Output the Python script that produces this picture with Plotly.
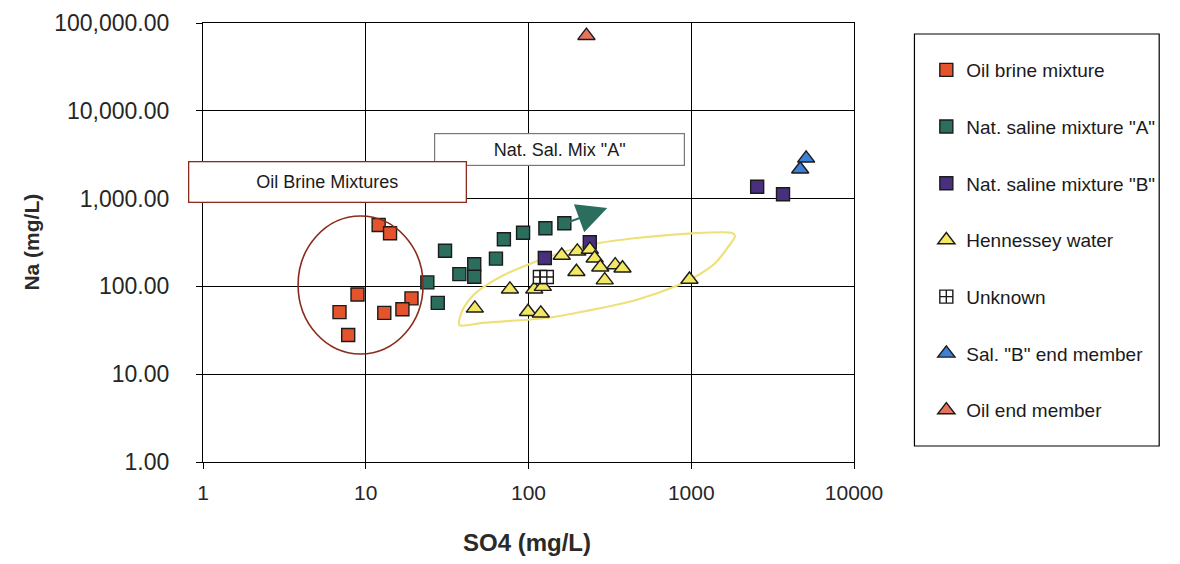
import numpy as np
import plotly.graph_objects as go

# ---------------- data (SO4 mg/L, Na mg/L) ----------------
oil_brine_so4 = [12.0, 14.1, 8.9, 6.9, 19.1, 16.8, 13.0, 7.8]
oil_brine_na = [500, 403, 81, 51, 73, 55, 50, 28]

nat_a_so4 = [23.9, 27.7, 30.7, 37.6, 46.4, 46.4, 63.1, 70.6, 92.6, 127, 166]
nat_a_na = [111, 65, 255, 138, 179, 129, 207, 344, 409, 459, 524]

nat_b_so4 = [126, 238, 2541, 3663]
nat_b_na = [211, 318, 1367, 1119]

hennessey_so4 = [46.8, 76.9, 108.5, 122.5, 99.3, 119, 160, 199.5, 238, 255,
                 197, 276, 341, 378, 294, 975]
hennessey_na = [56.3, 92.7, 92.7, 99.3, 51.5, 49.4, 225, 251, 263, 209,
                147, 165, 175, 161, 118, 120]

unknown_so4 = [117.5, 129.6]
unknown_na = [128, 128]

sal_b_end_so4 = [4670, 5080]
sal_b_end_na = [2158, 2876]

oil_end_so4 = [227]
oil_end_na = [71700]

x_tick_vals = [1, 10, 100, 1000, 10000]
x_tick_text = ["1", "10", "100", "1000", "10000"]
y_tick_vals = [1, 10, 100, 1000, 10000, 100000]

# decorative outline of the Hennessey field (log10 SO4, log10 Na)
henn_outline_logx = [1.575, 1.583, 1.606, 1.656, 1.727, 1.849, 1.991, 2.174, 2.435, 2.661,
                     2.983, 3.251, 3.269, 3.227, 3.148, 3.044, 2.922, 2.661, 2.356, 2.113,
                     1.729, 1.575]
henn_outline_logy = [1.560, 1.674, 1.769, 1.891, 1.997, 2.130, 2.244, 2.369, 2.494, 2.551,
                     2.602, 2.608, 2.574, 2.449, 2.267, 2.130, 2.016, 1.845, 1.720, 1.640,
                     1.587, 1.560]

# ---------------- figure geometry ----------------
PAGE_OFF = 8                      # default body margin of the html page
W, H = 1180 - 2 * PAGE_OFF, 564 - 2 * PAGE_OFF
ML, MT = 203 - PAGE_OFF, 23 - PAGE_OFF
MR = W - (860 - PAGE_OFF)
MB = H - (462 - PAGE_OFF)
PW, PH = W - ML - MR, H - MT - MB


def px_x(px):
    return (px - PAGE_OFF - ML) / PW


def px_y(py):
    return (H - MB - (py - PAGE_OFF)) / PH


FONT = "Liberation Sans, Arial, sans-serif"

fig = go.Figure()

fig.add_trace(go.Scatter(
    x=10 ** np.array(henn_outline_logx), y=10 ** np.array(henn_outline_logy),
    mode="lines", line=dict(color="#EEE07A", width=2.2, shape="spline", smoothing=0.8),
    showlegend=False, hoverinfo="skip"))

EDGE = "#1b1b1b"


def add_points(name, x, y, symbol, color, size, show=True):
    fig.add_trace(go.Scatter(
        x=x, y=y, mode="markers", name=name, legendgroup=name, showlegend=show,
        marker=dict(symbol=symbol, color=color, size=size,
                    line=dict(color=EDGE, width=1.4))))


add_points("Oil brine mixture", oil_brine_so4, oil_brine_na, "square", "#E5532D", 13)
add_points('Nat. saline mixture "A"', nat_a_so4, nat_a_na, "square", "#2C6E5E", 13)
add_points('Nat. saline mixture "B"', nat_b_so4, nat_b_na, "square", "#48307F", 13)
add_points("Hennessey water", hennessey_so4, hennessey_na, "triangle-up", "#F3E862", 15)
add_points("Unknown", unknown_so4, unknown_na, "square-cross", "#FFFFFF", 13)
add_points('Sal. "B" end member', sal_b_end_so4, sal_b_end_na, "triangle-up", "#3D80D6", 15)
add_points("Oil end member", oil_end_so4, oil_end_na, "triangle-up", "#E8735C", 15)

axis_common = dict(
    type="log", showline=True, linecolor="black", linewidth=1.3, mirror=True,
    showgrid=True, gridcolor="black", gridwidth=1, zeroline=False,
    ticks="outside", tickcolor="black", tickwidth=1, automargin=False,
)

fig.update_xaxes(range=[0, 4], tickvals=x_tick_vals, ticktext=x_tick_text, ticklen=6,
                 ticklabelstandoff=6,
                 tickfont=dict(family=FONT, size=21, color="#262626"),
                 **axis_common)
fig.update_yaxes(range=[0, 5], tickvals=y_tick_vals, tickformat=",.2f", ticklen=6,
                 ticklabelstandoff=22,
                 tickfont=dict(family=FONT, size=23, color="#262626"),
                 **axis_common)

shapes = [
    # circle round the oil brine mixtures (data coordinates)
    dict(type="circle", xref="x", yref="y", x0=3.84, x1=22.5, y0=17.0, y1=634,
         line=dict(color="#8A2B1D", width=1.6)),
    # legend frame
    dict(type="rect", xref="paper", yref="paper", x0=px_x(921), x1=px_x(1168),
         y0=px_y(446), y1=px_y(34), line=dict(color="black", width=1.2)),
]

annotations = [
    dict(text='Nat. Sal. Mix "A"', xref="paper", yref="paper", x=px_x(562.5), y=px_y(149.5),
         xanchor="center", yanchor="middle",
         showarrow=False, width=247, height=29, bgcolor="white", bordercolor="#777777",
         borderwidth=1.2, borderpad=1,
         font=dict(family=FONT, size=18, color="#1a1a1a")),
    dict(text="Oil Brine Mixtures", xref="paper", yref="paper", x=px_x(329), y=px_y(181.5),
         xanchor="center", yanchor="middle",
         showarrow=False, width=274, height=37, bgcolor="white", bordercolor="#8A2B1D",
         borderwidth=1.3, borderpad=1,
         font=dict(family=FONT, size=18, color="#1a1a1a")),
    # mixing-trend arrow for Nat. saline "A"
    dict(x=2.484, y=2.893, xref="x", yref="y", ax=-44, ay=16, text="", showarrow=True,
         arrowhead=2, arrowsize=3, arrowwidth=2, arrowcolor="#2C6E5E"),
    dict(text="<b>SO4 (mg/L)</b>", xref="paper", yref="paper", x=px_x(530), y=px_y(542),
         xanchor="center", yanchor="middle", showarrow=False,
         font=dict(family=FONT, size=24, color="#2a2a2a")),
    dict(text="<b>Na (mg/L)</b>", xref="paper", yref="paper", x=px_x(30), y=px_y(242),
         xanchor="center", yanchor="middle", showarrow=False, textangle=-90,
         font=dict(family=FONT, size=21, color="#2a2a2a")),
]

fig.update_layout(
    width=W, height=H, autosize=False,
    margin=dict(l=ML, r=MR, t=MT, b=MB, pad=0),
    paper_bgcolor="white", plot_bgcolor="white",
    shapes=shapes, annotations=annotations,
    showlegend=True,
    legend=dict(x=px_x(933), y=px_y(51), xanchor="left", yanchor="top",
                traceorder="grouped", tracegroupgap=29, borderwidth=0,
                bgcolor="rgba(0,0,0,0)",
                font=dict(family=FONT, size=19, color="#1a1a1a")),
)

fig.write_html("out.html")
